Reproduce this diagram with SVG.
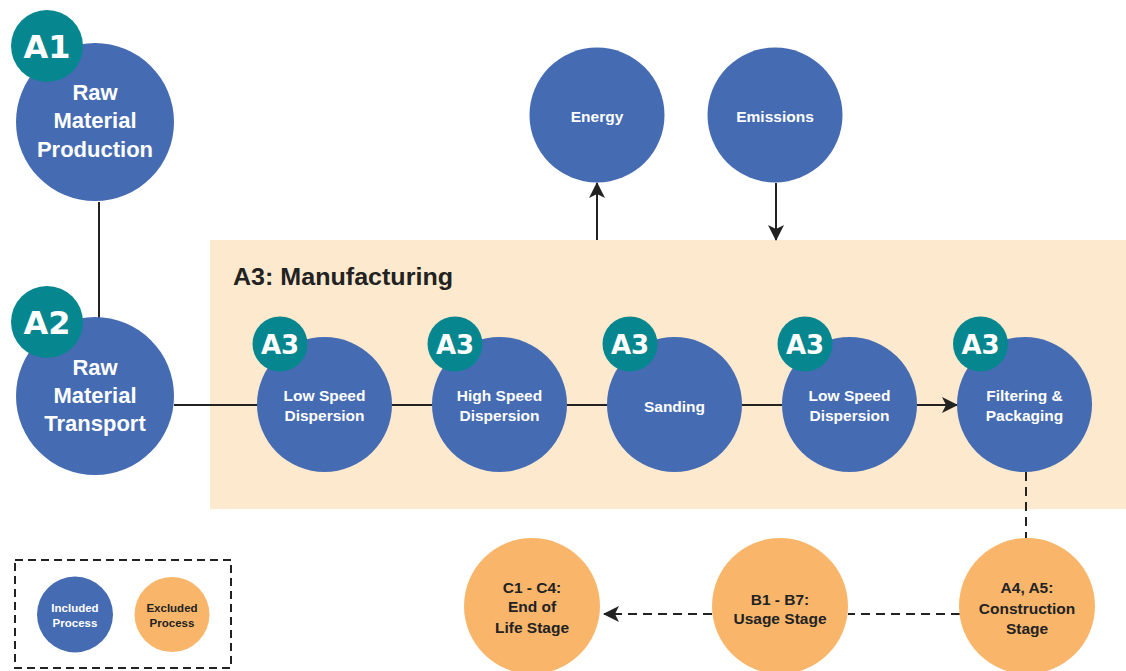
<svg xmlns="http://www.w3.org/2000/svg" width="1126" height="671" viewBox="0 0 1126 671">
<style>
.inc{fill:#456BB3}
.exc{fill:#F9B66B}
.badge{fill:#06878F}
.t{font-family:"Liberation Sans",Arial,sans-serif;font-weight:bold;text-anchor:middle}
.w{fill:#FFFFFF}
.d{fill:#222222}
.bt{font-family:"DejaVu Sans","Liberation Sans",sans-serif;font-weight:bold;text-anchor:middle;fill:#FFFFFF}
.ln{stroke:#222222;stroke-width:2;fill:none}
.dash{stroke-dasharray:9 6}
</style>
<defs>
<marker id="ah" markerUnits="userSpaceOnUse" markerWidth="16" markerHeight="16" viewBox="0 0 16 16" refX="15" refY="8" orient="auto">
<path d="M0,0 L16,8 L0,16 L4,8 z" fill="#222222"/>
</marker>
</defs>
<rect id="manufacturing" x="210" y="240" width="916" height="269" fill="#FDE9CD"/>
<text class="d" x="233" y="285" font-size="24" font-family="Liberation Sans, Arial, sans-serif" font-weight="bold" textLength="220" lengthAdjust="spacingAndGlyphs">A3: Manufacturing</text>
<g id="connectors">
<line class="ln" x1="99" y1="202" x2="99" y2="318"/>
<line class="ln" x1="174" y1="405" x2="257" y2="405"/>
<line class="ln" x1="392" y1="405" x2="432" y2="405"/>
<line class="ln" x1="567" y1="405" x2="607" y2="405"/>
<line class="ln" x1="742" y1="405" x2="782" y2="405"/>
<line class="ln" x1="917" y1="405" x2="957" y2="405" marker-end="url(#ah)"/>
<line class="ln" x1="597" y1="240" x2="597" y2="183" marker-end="url(#ah)"/>
<line class="ln" x1="776" y1="183" x2="776" y2="240" marker-end="url(#ah)"/>
<line class="ln dash" x1="1026" y1="472" x2="1026" y2="538"/>
<line class="ln dash" x1="960" y1="614" x2="848" y2="614"/>
<line class="ln dash" x1="712" y1="614" x2="604" y2="614" marker-end="url(#ah)"/>
</g>
<g id="a1">
<circle class="inc" cx="95" cy="122" r="79"/>
<circle class="badge" cx="47" cy="46" r="36"/>
<text class="bt" x="47" y="58" font-size="32">A1</text>
<text class="t w" x="95" y="100" font-size="22">Raw</text>
<text class="t w" x="95" y="128" font-size="22">Material</text>
<text class="t w" x="95" y="157" font-size="22">Production</text>
</g>
<g id="a2">
<circle class="inc" cx="95" cy="396" r="79"/>
<circle class="badge" cx="47" cy="322" r="36"/>
<text class="bt" x="47" y="334" font-size="32">A2</text>
<text class="t w" x="95" y="375" font-size="22">Raw</text>
<text class="t w" x="95" y="403" font-size="22">Material</text>
<text class="t w" x="95" y="431" font-size="22">Transport</text>
</g>
<g id="energy">
<circle class="inc" cx="597" cy="115" r="67.5"/>
<text class="t w" x="597" y="122" font-size="15.5">Energy</text>
</g>
<g id="emissions">
<circle class="inc" cx="775" cy="115" r="67.5"/>
<text class="t w" x="775" y="122" font-size="15.5">Emissions</text>
</g>
<g id="lowspeed1">
<circle class="inc" cx="324.5" cy="404.5" r="67.5"/>
<circle class="badge" cx="280" cy="344" r="27.5"/>
<text class="bt" x="280" y="353.5" font-size="26">A3</text>
<text class="t w" x="324.5" y="401" font-size="15.5">Low Speed</text>
<text class="t w" x="324.5" y="421" font-size="15.5">Dispersion</text>
</g>
<g id="highspeed">
<circle class="inc" cx="499.5" cy="404.5" r="67.5"/>
<circle class="badge" cx="455" cy="344" r="27.5"/>
<text class="bt" x="455" y="353.5" font-size="26">A3</text>
<text class="t w" x="499.5" y="401" font-size="15.5">High Speed</text>
<text class="t w" x="499.5" y="421" font-size="15.5">Dispersion</text>
</g>
<g id="sanding">
<circle class="inc" cx="674.5" cy="404.5" r="67.5"/>
<circle class="badge" cx="630" cy="344" r="27.5"/>
<text class="bt" x="630" y="353.5" font-size="26">A3</text>
<text class="t w" x="674.5" y="412" font-size="15.5">Sanding</text>
</g>
<g id="lowspeed2">
<circle class="inc" cx="849.5" cy="404.5" r="67.5"/>
<circle class="badge" cx="805" cy="344" r="27.5"/>
<text class="bt" x="805" y="353.5" font-size="26">A3</text>
<text class="t w" x="849.5" y="401" font-size="15.5">Low Speed</text>
<text class="t w" x="849.5" y="421" font-size="15.5">Dispersion</text>
</g>
<g id="filtering">
<circle class="inc" cx="1024.5" cy="404.5" r="67.5"/>
<circle class="badge" cx="980.5" cy="344" r="27.5"/>
<text class="bt" x="980.5" y="353.5" font-size="26">A3</text>
<text class="t w" x="1024.5" y="401" font-size="15.5">Filtering &amp;</text>
<text class="t w" x="1024.5" y="421" font-size="15.5">Packaging</text>
</g>
<g id="a4a5">
<circle class="exc" cx="1027" cy="606" r="68"/>
<text class="t d" x="1027" y="593" font-size="15.5">A4, A5:</text>
<text class="t d" x="1027" y="614" font-size="15.5">Construction</text>
<text class="t d" x="1027" y="634" font-size="15.5">Stage</text>
</g>
<g id="b1b7">
<circle class="exc" cx="780" cy="606" r="68"/>
<text class="t d" x="780" y="605" font-size="15.5">B1 - B7:</text>
<text class="t d" x="780" y="624" font-size="15.5">Usage Stage</text>
</g>
<g id="c1c4">
<circle class="exc" cx="532" cy="606" r="68"/>
<text class="t d" x="532" y="593" font-size="15.5">C1 - C4:</text>
<text class="t d" x="532" y="612" font-size="15.5">End of</text>
<text class="t d" x="532" y="633" font-size="15.5">Life Stage</text>
</g>
<g id="legend">
<rect x="15" y="560" width="216" height="108" fill="none" stroke="#222222" stroke-width="2" stroke-dasharray="8 5"/>
<circle class="inc" cx="75" cy="614.5" r="38"/>
<text class="t w" x="75" y="612" font-size="11.5">Included</text>
<text class="t w" x="75" y="627" font-size="11.5">Process</text>
<circle class="exc" cx="172" cy="614.5" r="37.5"/>
<text class="t d" x="172" y="612" font-size="11.5">Excluded</text>
<text class="t d" x="172" y="627" font-size="11.5">Process</text>
</g>
</svg>
